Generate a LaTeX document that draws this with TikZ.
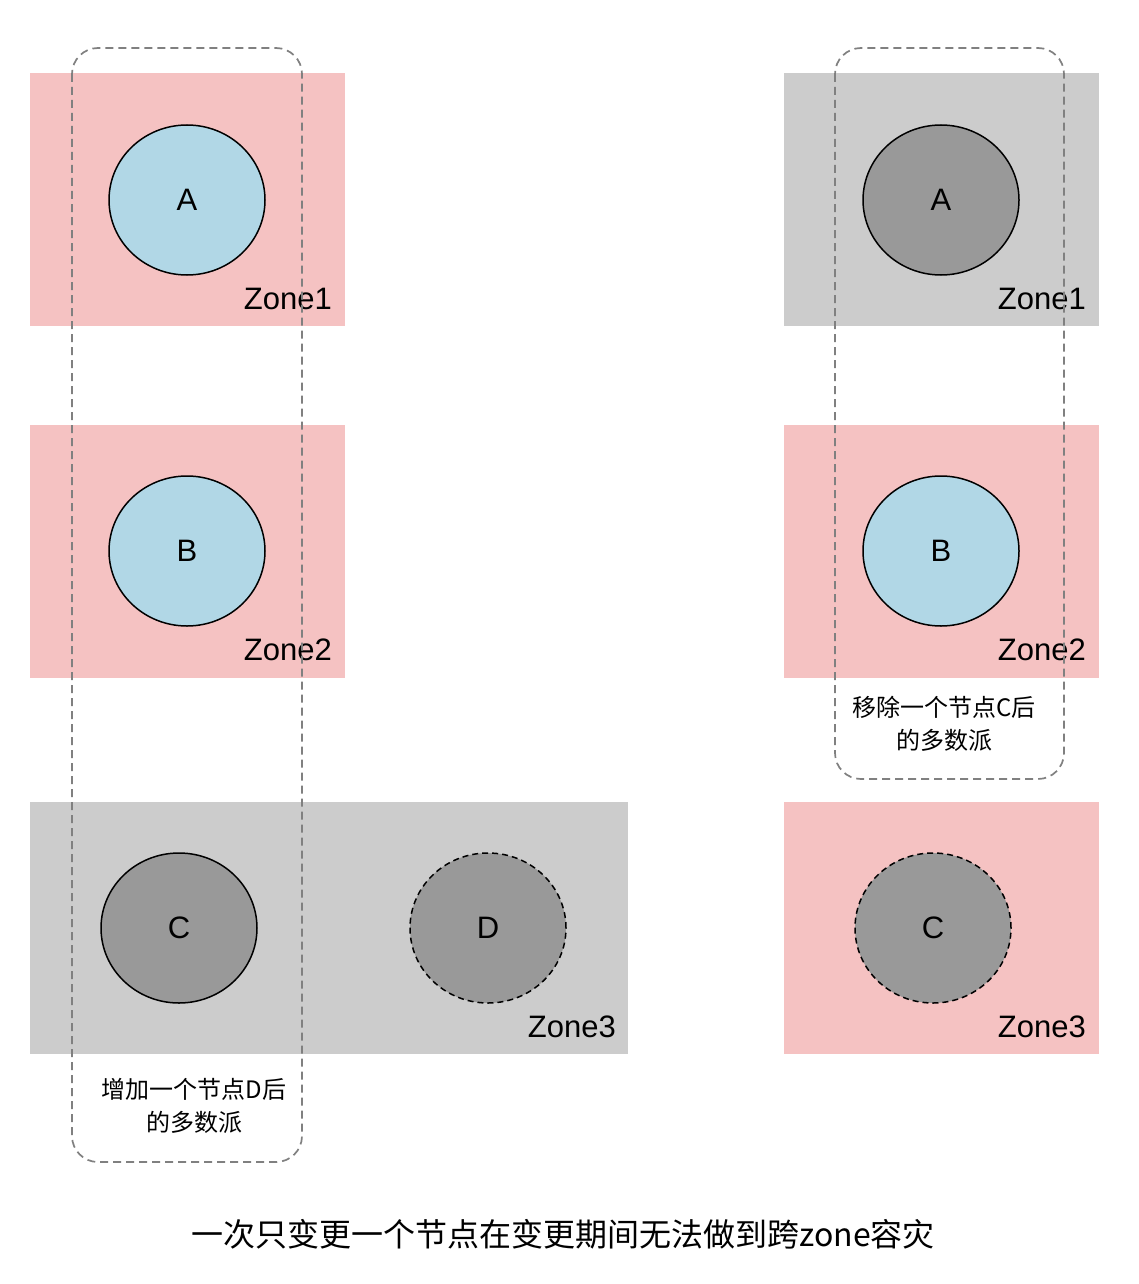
\documentclass[tikz,border=0pt]{standalone}
\usepackage{fontspec}
\setmainfont{Liberation Sans}
\newfontfamily\cjk{Noto Sans CJK SC}
\usetikzlibrary{shapes.geometric}
\definecolor{zonepink}{HTML}{F5C2C2}
\definecolor{zonegray}{HTML}{CCCCCC}
\definecolor{nodeblue}{HTML}{B1D7E6}
\definecolor{nodegray}{HTML}{999999}
\definecolor{dashgray}{HTML}{808080}
\begin{document}
\begin{tikzpicture}[x=1pt,y=-1pt,
  zonebox/.style={draw=none,inner sep=0pt,outer sep=0pt},
  pinkzone/.style={zonebox,fill=zonepink},
  grayzone/.style={zonebox,fill=zonegray},
  member/.style={ellipse,draw=black,line width=1.5pt,minimum width=156pt,minimum height=150pt,inner sep=0pt,font=\fontsize{31}{35}\selectfont},
  bluenode/.style={member,fill=nodeblue},
  graynode/.style={member,fill=nodegray},
  pendingnode/.style={member,fill=nodegray,dash pattern=on 6pt off 4pt},
  zonelabel/.style={anchor=base east,inner sep=0pt,font=\fontsize{31}{35}\selectfont},
  majority/.style={draw=dashgray,line width=1.7pt,dash pattern=on 8pt off 5pt,rounded corners=26pt},
  note/.style={align=center,inner sep=0pt,font=\cjk\fontsize{24}{33}\selectfont},
  caption/.style={inner sep=0pt,font=\cjk\fontsize{32}{36}\selectfont}
]
\useasboundingbox[fill=white] (0,0) rectangle (1138,1284);
% left zones
\fill[pinkzone] (30,73) rectangle (345,326);
\fill[pinkzone] (30,425) rectangle (345,678);
\fill[grayzone] (30,802) rectangle (628,1054);
% right zones
\fill[grayzone] (784,73) rectangle (1099,326);
\fill[pinkzone] (784,425) rectangle (1099,678);
\fill[pinkzone] (784,802) rectangle (1099,1054);
% left nodes
\node[bluenode] (lA) at (187,200) {A};
\node[bluenode] (lB) at (187,551) {B};
\node[graynode] (lC) at (179,928) {C};
\node[pendingnode] (lD) at (488,928) {D};
% right nodes
\node[graynode] (rA) at (941,200) {A};
\node[bluenode] (rB) at (941,551) {B};
\node[pendingnode] (rC) at (933,928) {C};
% zone labels
\node[zonelabel] (lz1) at (332,309) {Zone1};
\node[zonelabel] (lz2) at (332,660) {Zone2};
\node[zonelabel] (lz3) at (616,1037) {Zone3};
\node[zonelabel] (rz1) at (1086,309) {Zone1};
\node[zonelabel] (rz2) at (1086,660) {Zone2};
\node[zonelabel] (rz3) at (1086,1037) {Zone3};
% majority groups
\draw[majority] (72,48) rectangle (302,1162);
\draw[majority] (835,48) rectangle (1064,779);
\node[note] (lnote) at (194,1106) {增加一个节点D后\\的多数派};
\node[note] (rnote) at (944,724) {移除一个节点C后\\的多数派};
% caption
\node[caption] (cap) at (563,1234) {一次只变更一个节点在变更期间无法做到跨zone容灾};
\end{tikzpicture}
\end{document}
